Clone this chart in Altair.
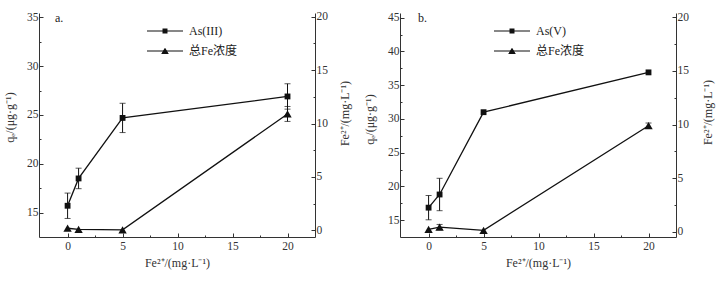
import altair as alt
import pandas as pd

# ---------------- data ----------------
fe_added = [0, 1, 5, 20]

# panel a
as3_name = "As(III)"
as3_qe = [15.7, 18.5, 24.7, 26.9]
as3_err = [1.3, 1.05, 1.5, 1.3]
fe_a = [0.2, 0.1, 0.05, 10.9]
fe_a_err = [0.0, 0.0, 0.0, 0.7]

# panel b
as5_name = "As(V)"
as5_qe = [16.85, 18.8, 31.0, 36.9]
as5_err = [1.8, 2.4, 0.0, 0.0]
fe_b = [0.25, 0.45, 0.15, 9.9]
fe_b_err = [0.0, 0.25, 0.0, 0.25]

fe_name = "总Fe浓度"

x_ticks = [0, 2.5, 5, 7.5, 10, 12.5, 15, 17.5, 20]
ya_ticks = [15, 17.5, 20, 22.5, 25, 27.5, 30, 32.5, 35]
yb_ticks = [15, 17.5, 20, 22.5, 25, 27.5, 30, 32.5, 35, 37.5, 40, 42.5, 45]
yr_ticks = [0, 2.5, 5, 7.5, 10, 12.5, 15, 17.5, 20]

INK = "#111111"
AX = "#333333"
FONT = "Liberation Serif"

# legend glyphs: a horizontal line with a marker in the middle, drawn with strokes only
path_sq = ("M-6,0H6"
           "M-0.83,-0.67H0.83M-0.83,-0.33H0.83M-0.83,0.33H0.83M-0.83,0.67H0.83")
path_tri = ("M-6,0H6"
            "M-0.17,-0.83H0.17M-0.38,-0.5H0.38M-0.58,-0.17H0.58"
            "M-0.78,0.17H0.78M-0.97,0.5H0.97M-1.17,0.83H1.17")

TICKS = {"condition": {"test": "datum.value % 5 === 0", "value": -4}, "value": -2}


def make_panel(tag, tag_dx, as_name, qe, qe_err, tfe, tfe_err, ydom, yvals, rdom,
               legx, legy, ltx, lty, rtx, rty):
    df = pd.DataFrame({
        "fe": fe_added,
        "qe": qe,
        "qe_lo": [v - e for v, e in zip(qe, qe_err)],
        "qe_hi": [v + e for v, e in zip(qe, qe_err)],
        "qe_err": qe_err,
        "tfe": tfe,
        "tfe_lo": [v - e for v, e in zip(tfe, tfe_err)],
        "tfe_hi": [v + e for v, e in zip(tfe, tfe_err)],
        "tfe_err": tfe_err,
        "series": [as_name] * len(fe_added),
    })
    base = alt.Chart(df)

    xaxis = alt.Axis(values=x_ticks, title="Fe²⁺/(mg·L⁻¹)",
                     labelExpr="datum.value % 5 === 0 ? datum.label : ''",
                     tickSize=TICKS, labelPadding=7, titlePadding=6)
    xenc = alt.X("fe:Q", scale=alt.Scale(domain=[-2.6, 22.5], nice=False, zero=False), axis=xaxis)

    laxis = alt.Axis(values=yvals, title="qₑ/(μg·g⁻¹)",
                     labelExpr="datum.value % 5 === 0 ? datum.label : ''",
                     tickSize=TICKS, labelPadding=5,
                     titleX=ltx, titleY=lty, titleBaseline="middle", titleAlign="center")
    lscale = alt.Scale(domain=ydom, nice=False, zero=False)

    raxis = alt.Axis(values=yr_ticks, title="Fe²⁺/(mg·L⁻¹)", orient="right",
                     labelExpr="datum.value % 5 === 0 ? datum.label : ''",
                     tickSize=TICKS, labelPadding=5, titleAngle=270,
                     titleX=rtx, titleY=rty, titleBaseline="middle", titleAlign="center")
    rscale = alt.Scale(domain=rdom, nice=False, zero=False)

    def yl(f):
        return alt.Y(f, scale=lscale, axis=laxis)

    def yr(f):
        return alt.Y(f, scale=rscale, axis=raxis)

    as_line = base.mark_line(color=INK, strokeWidth=1.3).encode(x=xenc, y=yl("qe:Q"))
    as_err = base.transform_filter("datum.qe_err > 0").mark_rule(color=INK, strokeWidth=1).encode(
        x=xenc, y=yl("qe_lo:Q"), y2="qe_hi:Q")
    as_cap1 = base.transform_filter("datum.qe_err > 0").mark_tick(
        orient="horizontal", color=INK, size=6, thickness=1).encode(x=xenc, y=yl("qe_lo:Q"))
    as_cap2 = base.transform_filter("datum.qe_err > 0").mark_tick(
        orient="horizontal", color=INK, size=6, thickness=1).encode(x=xenc, y=yl("qe_hi:Q"))
    as_pts = base.mark_point(shape="square", filled=True, size=34, color=INK, opacity=1).encode(
        x=xenc, y=yl("qe:Q"))
    legend_layer = base.mark_point(filled=False, opacity=0, color=INK,
                                   strokeWidth=1.2, size=36).encode(
        x=xenc, y=yl("qe:Q"),
        shape=alt.Shape("series:N",
                        scale=alt.Scale(domain=[as_name, fe_name], range=[path_sq, path_tri]),
                        legend=alt.Legend(orient="none", legendX=legx, legendY=legy, title=None,
                                          symbolSize=36, symbolStrokeWidth=1.2,
                                          symbolStrokeColor=INK,
                                          labelOffset=18, rowPadding=8, padding=0,
                                          labelFont=FONT + ", Noto Sans CJK SC",
                                          labelFontSize=12, labelColor="#222222")))
    as_layer = alt.layer(as_line, as_err, as_cap1, as_cap2, as_pts, legend_layer)

    fe_line = base.mark_line(color=INK, strokeWidth=1.3).encode(x=xenc, y=yr("tfe:Q"))
    fe_err_r = base.transform_filter("datum.tfe_err > 0").mark_rule(color=INK, strokeWidth=1).encode(
        x=xenc, y=yr("tfe_lo:Q"), y2="tfe_hi:Q")
    fe_cap1 = base.transform_filter("datum.tfe_err > 0").mark_tick(
        orient="horizontal", color=INK, size=6, thickness=1).encode(x=xenc, y=yr("tfe_lo:Q"))
    fe_cap2 = base.transform_filter("datum.tfe_err > 0").mark_tick(
        orient="horizontal", color=INK, size=6, thickness=1).encode(x=xenc, y=yr("tfe_hi:Q"))
    fe_pts = base.mark_point(shape="triangle-up", filled=True, size=70, color=INK, opacity=1).encode(
        x=xenc, y=yr("tfe:Q"))
    fe_layer = alt.layer(fe_line, fe_err_r, fe_cap1, fe_cap2, fe_pts)

    return alt.layer(as_layer, fe_layer).resolve_scale(y="independent").properties(
        width=276, height=224,
        title=alt.TitleParams(tag, anchor="start", orient="top", dx=tag_dx, dy=14, offset=0,
                              font=FONT, fontSize=12, fontWeight="normal", color="#222222",
                              frame="group"))


panel_a = make_panel("a.", 16, as3_name, as3_qe, as3_err, fe_a, fe_a_err,
                     [12.5, 35.45], ya_ticks, [-0.62, 20.35], 120, 12,
                     -30, 104, 29, 100)
panel_b = make_panel("b.", 18, as5_name, as5_qe, as5_err, fe_b, fe_b_err,
                     [12.5, 45.7], yb_ticks, [-0.47, 20.4], 106, 12,
                     -31, 106, 31, 99)

chart = alt.hconcat(panel_a, panel_b, spacing=13).resolve_scale(
    shape="independent").resolve_legend(shape="independent").properties(
    padding={"left": 3, "top": 10, "right": 4, "bottom": 4}
).configure_view(stroke=None).configure_axis(
    grid=False, domainColor=AX, tickColor=AX, domainWidth=1, tickWidth=1,
    labelFont=FONT, labelFontSize=11.5, labelColor=AX,
    titleFont=FONT, titleFontSize=12, titleFontWeight="normal", titleColor=AX,
)

chart.save("out.html", embed_options={"renderer": "svg", "actions": False})
